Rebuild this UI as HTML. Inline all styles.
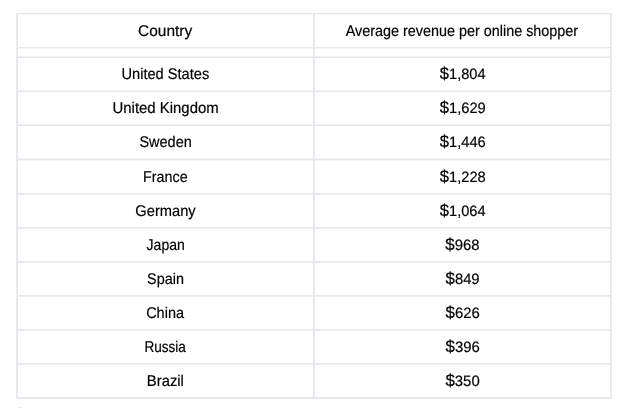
<!DOCTYPE html>
<html><head><meta charset="utf-8"><style>
html,body{margin:0;padding:0;background:#fff;width:620px;height:408px;overflow:hidden;position:relative}
.h{position:absolute;left:16px;width:596px;height:1px}
.v{position:absolute;top:13px;height:386px;width:1px}
.t{position:absolute;height:34px;line-height:34px;text-align:center;font-family:"Liberation Sans",sans-serif;font-size:15.5px;color:#000;white-space:nowrap;-webkit-text-stroke:0.2px #000;filter:blur(0.25px);text-rendering:geometricPrecision;will-change:transform}
.t span{display:inline-block}
.n{font-size:15px}
.n b{font-weight:normal;font-size:17px}
</style></head><body>
<div class="h" style="top:14px;background:#f5f5f7"></div>
<div class="h" style="top:48px;background:#f5f5f7"></div>
<div class="h" style="top:56px;background:#eeeff1"></div>
<div class="h" style="top:90px;background:#eeeff1"></div>
<div class="h" style="top:124px;background:#eeeff1"></div>
<div class="h" style="top:158px;background:#f5f5f7"></div>
<div class="h" style="top:160px;background:#f5f5f7"></div>
<div class="h" style="top:194px;background:#eeeff1"></div>
<div class="h" style="top:228px;background:#eeeff1"></div>
<div class="h" style="top:262px;background:#eeeff1"></div>
<div class="h" style="top:296px;background:#eeeff1"></div>
<div class="h" style="top:330px;background:#eeeff1"></div>
<div class="h" style="top:364px;background:#eeeff1"></div>
<div class="h" style="top:398px;background:#e6e7ea"></div>
<div class="h" style="top:13px;background:#e6e7ea"></div>
<div class="h" style="top:47px;background:#e6e7ea"></div>
<div class="h" style="top:57px;background:#e6e7ea"></div>
<div class="h" style="top:91px;background:#e6e7ea"></div>
<div class="h" style="top:125px;background:#e6e7ea"></div>
<div class="h" style="top:159px;background:#e6e7ea"></div>
<div class="h" style="top:193px;background:#e6e7ea"></div>
<div class="h" style="top:227px;background:#e6e7ea"></div>
<div class="h" style="top:261px;background:#e6e7ea"></div>
<div class="h" style="top:295px;background:#e6e7ea"></div>
<div class="h" style="top:329px;background:#e6e7ea"></div>
<div class="h" style="top:363px;background:#e6e7ea"></div>
<div class="h" style="top:397px;background:#e6e7ea"></div>
<div class="v" style="left:16px;background:#e9eaed"></div>
<div class="v" style="left:17px;background:#e6e7ea"></div>
<div class="v" style="left:313px;background:#e6e7ea"></div>
<div class="v" style="left:314px;background:#e9eaed"></div>
<div class="v" style="left:610px;background:#e6e7ea"></div>
<div class="v" style="left:611px;background:#ebeced"></div>
<div style="position:absolute;left:18px;top:407px;width:2px;height:1px;background:#ececec"></div><div style="position:absolute;left:20px;top:407px;width:2px;height:1px;background:#eeeeee"></div>
<div class="t" style="left:17px;width:297px;top:15.0px"><span style="transform:translateX(0.02px) scaleX(0.9981)">Country</span></div>
<div class="t" style="left:314px;width:297px;top:15.0px"><span style="transform:translateX(-0.3px) scaleX(0.9274)">Average revenue per online shopper</span></div>
<div class="t" style="left:17px;width:297px;top:58.0px"><span style="transform:translateX(-0.18px) scaleX(0.9423)">United States</span></div>
<div class="t n" style="left:314px;width:297px;top:57.0px"><span style="transform:translateX(0.2px) scaleX(0.9748)"><b>$</b>1,804</span></div>
<div class="t" style="left:17px;width:297px;top:92.0px"><span style="transform:translateX(0.47px) scaleX(0.9621)">United Kingdom</span></div>
<div class="t n" style="left:314px;width:297px;top:91.0px"><span style="transform:translateX(0.23px) scaleX(0.9761)"><b>$</b>1,629</span></div>
<div class="t" style="left:17px;width:297px;top:126.0px"><span style="transform:translateX(0.61px) scaleX(0.934)">Sweden</span></div>
<div class="t n" style="left:314px;width:297px;top:125.0px"><span style="transform:translateX(0.26px) scaleX(0.9765)"><b>$</b>1,446</span></div>
<div class="t" style="left:17px;width:297px;top:161.0px"><span style="transform:translateX(0.24px) scaleX(0.9231)">France</span></div>
<div class="t n" style="left:314px;width:297px;top:160.0px"><span style="transform:translateX(0.25px) scaleX(0.9765)"><b>$</b>1,228</span></div>
<div class="t" style="left:17px;width:297px;top:195.0px"><span style="transform:translateX(-0.38px) scaleX(0.9453)">Germany</span></div>
<div class="t n" style="left:314px;width:297px;top:194.0px"><span style="transform:translateX(0.2px) scaleX(0.9748)"><b>$</b>1,064</span></div>
<div class="t" style="left:17px;width:297px;top:229.0px"><span style="transform:translateX(0.56px) scaleX(0.9047)">Japan</span></div>
<div class="t n" style="left:314px;width:297px;top:228.0px"><span style="transform:translateX(0.22px) scaleX(0.9928)"><b>$</b>968</span></div>
<div class="t" style="left:17px;width:297px;top:263.0px"><span style="transform:translateX(-0.33px) scaleX(0.93)">Spain</span></div>
<div class="t n" style="left:314px;width:297px;top:262.0px"><span style="transform:translateX(0.33px) scaleX(0.9867)"><b>$</b>849</span></div>
<div class="t" style="left:17px;width:297px;top:297.0px"><span style="transform:translateX(-0.18px) scaleX(0.9338)">China</span></div>
<div class="t n" style="left:314px;width:297px;top:296.0px"><span style="transform:translateX(0.41px) scaleX(0.9917)"><b>$</b>626</span></div>
<div class="t" style="left:17px;width:297px;top:331.0px"><span style="transform:translateX(-0.55px) scaleX(0.8756)">Russia</span></div>
<div class="t n" style="left:314px;width:297px;top:330.0px"><span style="transform:translateX(0.41px) scaleX(0.9917)"><b>$</b>396</span></div>
<div class="t" style="left:17px;width:297px;top:365.0px"><span style="transform:translateX(-0.01px) scaleX(0.9546)">Brazil</span></div>
<div class="t n" style="left:314px;width:297px;top:364.0px"><span style="transform:translateX(0.28px) scaleX(0.9938)"><b>$</b>350</span></div>
</body></html>
